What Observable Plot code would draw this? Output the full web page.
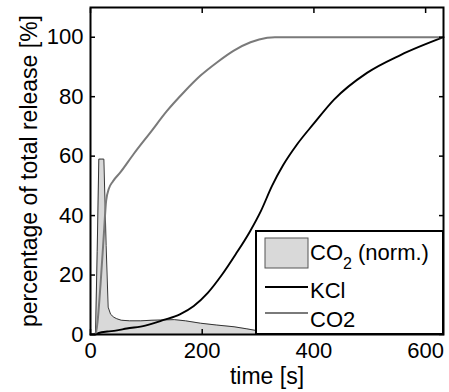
<!DOCTYPE html>
<html><head><meta charset="utf-8">
<script src="https://cdn.jsdelivr.net/npm/d3@7"></script>
<script src="https://cdn.jsdelivr.net/npm/@observablehq/plot@0.6"></script>
<style>
html,body{margin:0;padding:0;background:#fff;}
#chart{width:449px;height:392px;}
</style></head><body><div id="chart"></div>
<script>
const xTicks = [0, 200, 400, 600];
const yTicks = [0, 20, 40, 60, 80, 100];
const xLabel = "time [s]";
const yLabel = "percentage of total release [%]";

// CO2 (normalised emission rate), shaded area
const normTime  = [0, 5, 9, 12, 14.9, 19, 23.9, 28, 31.6, 36, 41.8, 47, 55, 70, 90, 110, 131, 150, 170, 197, 225, 257, 280, 295, 315, 335];
const normValue = [0, 0.2, 0.5, 28, 59, 59, 59, 30, 9.2, 6.8, 5.8, 5.3, 4.8, 4.6, 4.6, 4.8, 4.9, 5.0, 4.6, 3.8, 3.2, 2.6, 1.9, 1.4, 0.8, 0.3];

// KCl cumulative release
const kclTime  = [0, 8, 15, 30, 45, 65, 98, 131, 160, 185, 210, 235, 260, 285, 305, 325, 345, 370, 400, 436, 495, 555, 632];
const kclValue = [0, 0, 0.5, 1.0, 1.3, 2.0, 3.0, 4.9, 6.8, 9.6, 14.0, 20.0, 27.0, 34.5, 41.5, 50.0, 57.0, 64.0, 71.0, 79.0, 88, 94, 100];

// CO2 cumulative release
const co2Time  = [0, 9, 13, 18, 24, 28, 32.8, 40, 53.7, 77.6, 107.4, 137.3, 167.1, 197, 226.9, 256.6, 286.5, 316.4, 330, 632];
const co2Value = [0, 0, 5, 17, 34, 45, 49, 51.5, 54.6, 60.8, 68, 75.3, 81.5, 87.1, 91.6, 95.5, 98.3, 99.8, 100, 100];

const legendNames = ["CO", "2", " (norm.)", "KCl", "CO2"];

(function () {
const norm = normTime.map((t, i) => ({t, v: normValue[i]}));
const kcl = kclTime.map((t, i) => ({t, v: kclValue[i]}));
const co2 = co2Time.map((t, i) => ({t, v: co2Value[i]}));

const fontFamily = "'Liberation Sans', Arial, Helvetica, sans-serif";

const plot = Plot.plot({
  width: 449,
  height: 392,
  marginLeft: 90,
  marginRight: 6,
  marginTop: 7,
  marginBottom: 58,
  style: {fontFamily, fontSize: "22px", background: "white", color: "black"},
  x: {domain: [0, 632]},
  y: {domain: [0, 110]},
  marks: [
    Plot.areaY(norm, {x: "t", y: "v", fill: "#d9d9d9"}),
    Plot.lineY(norm, {x: "t", y: "v", stroke: "#333", strokeWidth: 1}),
    Plot.lineY(kcl, {x: "t", y: "v", stroke: "black", strokeWidth: 1.9, curve: "monotone-x"}),
    Plot.lineY(co2, {x: "t", y: "v", stroke: "#7a7a7a", strokeWidth: 2, curve: "monotone-x"}),
    Plot.axisX({ticks: xTicks, tickSize: 0, tickPadding: 8, label: null}),
    Plot.axisY({ticks: yTicks, tickSize: 0, tickPadding: 7, label: null}),
    Plot.axisX({ticks: [], label: xLabel, labelAnchor: "center", labelOffset: 49, labelArrow: "none", fontSize: 23}),
    Plot.axisY({ticks: [], label: yLabel, labelAnchor: "center", labelOffset: 70, labelArrow: "none", fontSize: 23}),
    Plot.axisX({ticks: xTicks, anchor: "bottom", tickSize: -5, tickFormat: () => "", label: null, strokeWidth: 1.5}),
    Plot.axisX({ticks: xTicks, anchor: "top", tickSize: -5, tickFormat: () => "", label: null, strokeWidth: 1.5}),
    Plot.axisY({ticks: yTicks, anchor: "left", tickSize: -5, tickFormat: () => "", label: null, strokeWidth: 1.5}),
    Plot.axisY({ticks: yTicks, anchor: "right", tickSize: -5, tickFormat: () => "", label: null, strokeWidth: 1.5}),
    Plot.frame({stroke: "black", strokeWidth: 2})
  ]
});

// Legend, anchored at the lower right corner of the frame
const xs = plot.scale("x"), ys = plot.scale("y");
const lRight = xs.range[1], lBottom = ys.range[0];
const lw = 187, lh = 103;
const lLeft = lRight - lw, lTop = lBottom - lh;
const svg = d3.select(plot);
const g = svg.append("g").attr("font-family", fontFamily).attr("font-size", 22).attr("text-anchor", "start").attr("fill", "black");
g.append("rect").attr("x", lLeft).attr("y", lTop).attr("width", lw).attr("height", lh)
  .attr("fill", "white").attr("stroke", "black").attr("stroke-width", 2);
g.append("rect").attr("x", lLeft + 9).attr("y", lTop + 7).attr("width", 43).attr("height", 30)
  .attr("fill", "#d9d9d9").attr("stroke", "#555").attr("stroke-width", 1);
const t1 = g.append("text").attr("x", lLeft + 54).attr("y", lTop + 29);
t1.append("tspan").text(legendNames[0]);
t1.append("tspan").attr("dy", 9).attr("font-size", 16).text(legendNames[1]);
t1.append("tspan").attr("dy", -9).text(legendNames[2]);
g.append("line").attr("x1", lLeft + 9).attr("x2", lLeft + 52).attr("y1", lTop + 56).attr("y2", lTop + 56)
  .attr("stroke", "black").attr("stroke-width", 1.9);
g.append("text").attr("x", lLeft + 54).attr("y", lTop + 67).text(legendNames[3]);
g.append("line").attr("x1", lLeft + 9).attr("x2", lLeft + 52).attr("y1", lTop + 82).attr("y2", lTop + 82)
  .attr("stroke", "#7a7a7a").attr("stroke-width", 2);
g.append("text").attr("x", lLeft + 54).attr("y", lTop + 96).text(legendNames[4]);

document.getElementById("chart").appendChild(plot);
})();
</script>
</body></html>
